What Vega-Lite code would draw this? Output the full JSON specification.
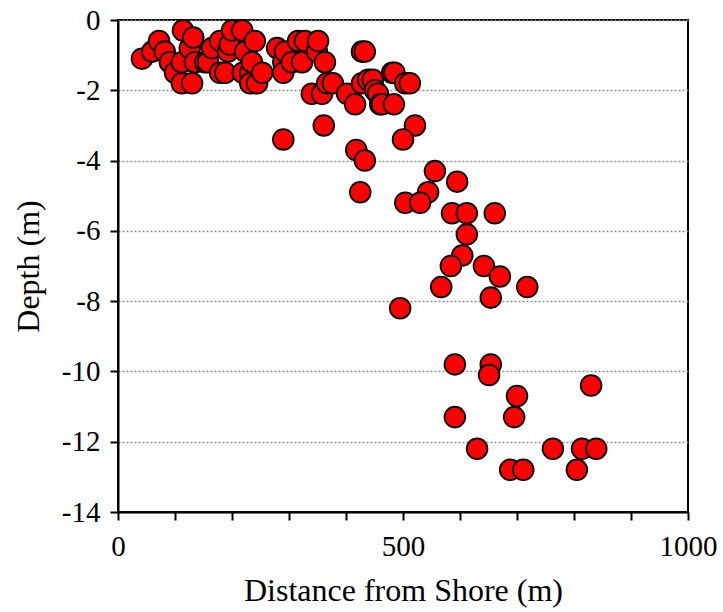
{
  "$schema": "https://vega.github.io/schema/vega-lite/v6.json",
  "autosize": {"type": "none"},
  "width": 570,
  "height": 492,
  "padding": {"left": 118, "top": 20, "right": 35, "bottom": 100},
  "background": "white",
  "config": {
    "font": "'Liberation Serif', 'Times New Roman', serif",
    "view": {"stroke": "black", "strokeWidth": 2},
    "axis": {
      "labelFont": "'Liberation Serif', 'Times New Roman', serif",
      "titleFont": "'Liberation Serif', 'Times New Roman', serif",
      "labelColor": "black",
      "titleColor": "black",
      "labelFontSize": 29,
      "titleFontSize": 32,
      "titleFontWeight": "normal",
      "domainColor": "black",
      "domainWidth": 2,
      "tickColor": "black",
      "tickWidth": 2,
      "tickSize": 8
    }
  },
  "data": {
    "values": [
      {"distance": 42, "depth": -1.1}, {"distance": 60, "depth": -0.9}, {"distance": 72, "depth": -0.6},
      {"distance": 82, "depth": -0.9}, {"distance": 91, "depth": -1.2}, {"distance": 100, "depth": -1.5},
      {"distance": 112, "depth": -1.2}, {"distance": 112, "depth": -1.8}, {"distance": 114, "depth": -0.3},
      {"distance": 126, "depth": -0.8}, {"distance": 130, "depth": -1.8}, {"distance": 132, "depth": -0.5},
      {"distance": 135, "depth": -1.2}, {"distance": 153, "depth": -1.2}, {"distance": 158, "depth": -1.2},
      {"distance": 165, "depth": -0.8}, {"distance": 179, "depth": -0.6}, {"distance": 179, "depth": -1.5},
      {"distance": 188, "depth": -1.5}, {"distance": 193, "depth": -0.9}, {"distance": 196, "depth": -0.7},
      {"distance": 200, "depth": -0.3}, {"distance": 218, "depth": -0.3}, {"distance": 219, "depth": -1.5},
      {"distance": 223, "depth": -0.9}, {"distance": 232, "depth": -1.5}, {"distance": 232, "depth": -1.8},
      {"distance": 235, "depth": -1.2}, {"distance": 240, "depth": -0.6}, {"distance": 244, "depth": -1.8},
      {"distance": 253, "depth": -1.5}, {"distance": 279, "depth": -0.8}, {"distance": 290, "depth": -1.2},
      {"distance": 290, "depth": -1.5}, {"distance": 293, "depth": -0.9}, {"distance": 305, "depth": -1.2},
      {"distance": 316, "depth": -0.6}, {"distance": 323, "depth": -1.2}, {"distance": 328, "depth": -0.6},
      {"distance": 340, "depth": -2.1}, {"distance": 349, "depth": -0.9}, {"distance": 351, "depth": -0.6},
      {"distance": 358, "depth": -2.1}, {"distance": 363, "depth": -1.2}, {"distance": 367, "depth": -1.8},
      {"distance": 377, "depth": -1.8}, {"distance": 402, "depth": -2.1}, {"distance": 416, "depth": -2.4},
      {"distance": 428, "depth": -0.9}, {"distance": 433, "depth": -0.9}, {"distance": 428, "depth": -1.8},
      {"distance": 439, "depth": -1.7}, {"distance": 447, "depth": -1.7}, {"distance": 451, "depth": -2.0},
      {"distance": 456, "depth": -2.1}, {"distance": 460, "depth": -2.4}, {"distance": 463, "depth": -2.4},
      {"distance": 481, "depth": -1.5}, {"distance": 485, "depth": -1.5}, {"distance": 484, "depth": -2.4},
      {"distance": 504, "depth": -1.8}, {"distance": 512, "depth": -1.8},
      {"distance": 290, "depth": -3.4}, {"distance": 361, "depth": -3.0}, {"distance": 418, "depth": -3.7},
      {"distance": 433, "depth": -4.0}, {"distance": 425, "depth": -4.9}, {"distance": 521, "depth": -3.0},
      {"distance": 500, "depth": -3.4},
      {"distance": 556, "depth": -4.3}, {"distance": 595, "depth": -4.6}, {"distance": 544, "depth": -4.9},
      {"distance": 504, "depth": -5.2}, {"distance": 530, "depth": -5.2}, {"distance": 586, "depth": -5.5},
      {"distance": 612, "depth": -5.5}, {"distance": 661, "depth": -5.5}, {"distance": 612, "depth": -6.1},
      {"distance": 604, "depth": -6.7}, {"distance": 584, "depth": -7.0}, {"distance": 642, "depth": -7.0},
      {"distance": 670, "depth": -7.3}, {"distance": 567, "depth": -7.6}, {"distance": 718, "depth": -7.6},
      {"distance": 654, "depth": -7.9}, {"distance": 495, "depth": -8.2},
      {"distance": 591, "depth": -9.8}, {"distance": 654, "depth": -9.8}, {"distance": 651, "depth": -10.1},
      {"distance": 830, "depth": -10.4}, {"distance": 700, "depth": -10.7}, {"distance": 591, "depth": -11.3},
      {"distance": 695, "depth": -11.3}, {"distance": 630, "depth": -12.2}, {"distance": 763, "depth": -12.2},
      {"distance": 814, "depth": -12.2}, {"distance": 839, "depth": -12.2}, {"distance": 688, "depth": -12.8},
      {"distance": 711, "depth": -12.8}, {"distance": 805, "depth": -12.8}
    ]
  },
  "mark": {
    "type": "point",
    "shape": "circle",
    "filled": true,
    "fill": "#ff0000",
    "stroke": "black",
    "strokeWidth": 1.8,
    "size": 430,
    "opacity": 1,
    "fillOpacity": 1,
    "strokeOpacity": 1
  },
  "encoding": {
    "x": {
      "field": "distance",
      "type": "quantitative",
      "scale": {"domain": [0, 1000], "nice": false, "zero": false},
      "axis": {
        "title": "Distance from Shore (m)",
        "values": [0, 100, 200, 300, 400, 500, 600, 700, 800, 900, 1000],
        "labelExpr": "datum.value % 500 === 0 ? '' + datum.value : ''",
        "grid": false,
        "labelPadding": 12,
        "titlePadding": 14,
        "labelFlush": false
      }
    },
    "y": {
      "field": "depth",
      "type": "quantitative",
      "scale": {"domain": [-14, 0], "nice": false, "zero": false},
      "axis": {
        "title": "Depth (m)",
        "values": [-14, -12, -10, -8, -6, -4, -2, 0],
        "labelExpr": "'' + datum.value",
        "grid": true,
        "gridColor": "#8c8c8c",
        "gridDash": [2, 2],
        "gridWidth": 1.5,
        "labelPadding": 10,
        "titlePadding": 16,
        "labelFlush": false
      }
    }
  }
}
